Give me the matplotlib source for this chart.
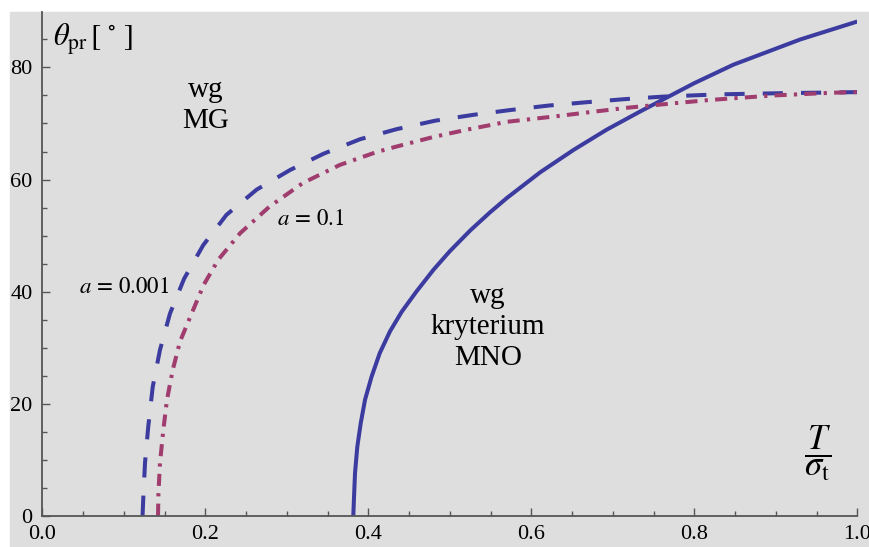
import matplotlib
matplotlib.use('Agg')
import matplotlib.pyplot as plt
from matplotlib.patches import Rectangle
from matplotlib.ticker import MultipleLocator

plt.rcParams['font.family'] = ['Liberation Serif', 'DejaVu Serif']
plt.rcParams['mathtext.fontset'] = 'stix'

# kryterium MNO (linia ciągła)
mno_x = [0.3816, 0.3825, 0.3837, 0.3865, 0.3907, 0.396, 0.404, 0.414, 0.4266, 0.441,
         0.459, 0.480, 0.500, 0.525, 0.549, 0.570, 0.611, 0.652, 0.6925, 0.733,
         0.754, 0.800, 0.848, 0.930, 1.0]
mno_y = [0.0, 3.4, 7.6, 12.3, 16.5, 20.7, 24.8, 29.0, 32.9, 36.4,
         40.0, 43.9, 47.2, 50.9, 54.1, 56.7, 61.3, 65.3, 68.9, 72.1,
         73.7, 77.2, 80.5, 85.0, 88.2]

# MG, a = 0.001 (kreskowana)
mg1_x = [0.123, 0.124, 0.126, 0.130, 0.1355, 0.1444, 0.1567, 0.174, 0.1975, 0.226,
         0.263, 0.304, 0.345, 0.390, 0.435, 0.482, 0.529, 0.574, 0.621, 0.668,
         0.715, 0.762, 0.830, 0.903, 1.0]
mg1_y = [0.0, 3.4, 9.4, 15.9, 23.0, 29.6, 36.1, 42.3, 48.3, 53.7,
         58.2, 61.7, 64.6, 67.2, 69.0, 70.5, 71.55, 72.4, 73.2, 73.8,
         74.35, 74.8, 75.2, 75.4, 75.6]

# MG, a = 0.1 (kreska-kropka)
mg2_x = [0.142, 0.1425, 0.1444, 0.1485, 0.153, 0.160, 0.169, 0.183, 0.198, 0.216,
         0.2426, 0.279, 0.320, 0.365, 0.410, 0.435, 0.480, 0.521, 0.570, 0.631,
         0.676, 0.717, 0.774, 0.819, 0.897, 0.971, 1.0]
mg2_y = [0.0, 4.0, 9.4, 15.3, 20.7, 26.0, 31.1, 36.0, 41.2, 45.7,
         50.4, 55.2, 59.4, 62.6, 64.9, 65.9, 67.6, 68.9, 70.3, 71.3,
         72.1, 72.8, 73.6, 74.2, 75.0, 75.5, 75.6]

x_ticks = [0.0, 0.2, 0.4, 0.6, 0.8, 1.0]
x_labels = ['0.0', '0.2', '0.4', '0.6', '0.8', '1.0']
y_ticks = [0, 20, 40, 60, 80]

blue = '#3c3ca0'
pink = '#a03c6e'
bg = '#dedede'

fig = plt.figure(figsize=(8.69, 5.47), dpi=100, facecolor='white')
fig.patches.append(Rectangle((10 / 869, 0), 1 - 10 / 869, 1 - 12 / 547,
                             transform=fig.transFigure, color=bg, zorder=-10))
ax = fig.add_axes([42.3 / 869, 31.3 / 547, 815 / 869, 503.7 / 547])
ax.set_facecolor('none')

lw = 2.9
ax.plot(mno_x, mno_y, color=blue, lw=lw, solid_capstyle='butt', solid_joinstyle='round')
ax.plot(mg1_x, mg1_y, color=blue, lw=lw, linestyle=(0, (5, 4.5)), dash_capstyle='butt')
ax.plot(mg2_x, mg2_y, color=pink, lw=lw, linestyle=(0, (3, 1.8, 0.8, 1.8)), dash_capstyle='butt')

ax.set_xlim(0, 1.0)
ax.set_ylim(0, 89.9)

for s in ['top', 'right']:
    ax.spines[s].set_visible(False)
for s in ['left', 'bottom']:
    ax.spines[s].set_color('#555555')
    ax.spines[s].set_linewidth(1.3)

ax.set_xticks(x_ticks)
ax.set_xticklabels(x_labels)
ax.set_yticks(y_ticks)
ax.xaxis.set_minor_locator(MultipleLocator(0.05))
ax.yaxis.set_minor_locator(MultipleLocator(5))
ax.tick_params(which='both', direction='in', color='#555555', width=1.0, labelsize=16)
ax.tick_params(which='major', length=6)
ax.tick_params(which='minor', length=3.6)
ax.tick_params(axis='x', pad=7)
ax.tick_params(axis='y', pad=7)

# opisy
ax.text(0.013, 85, r'$\theta_{\mathrm{pr}}\,[\,^\circ\,]$', fontsize=22, ha='left', va='center')
ax.text(0.952, 11.2, r'$\dfrac{T}{\sigma_{\mathrm{t}}}$', fontsize=25, ha='center', va='center')
ax.text(0.201, 73.3, 'wg\nMG', fontsize=21, ha='center', va='center', linespacing=1.25)
ax.text(0.5465, 33.6, 'wg\nkryterium\nMNO', fontsize=21, ha='center', va='center', linespacing=1.25)
ax.text(0.1, 40.7, r'$a\,=\,0.001$', fontsize=16.5, ha='center', va='center')
ax.text(0.3295, 52.8, r'$a\,=\,0.1$', fontsize=16.5, ha='center', va='center')

plt.savefig('out.png', dpi=100, facecolor=fig.get_facecolor())
